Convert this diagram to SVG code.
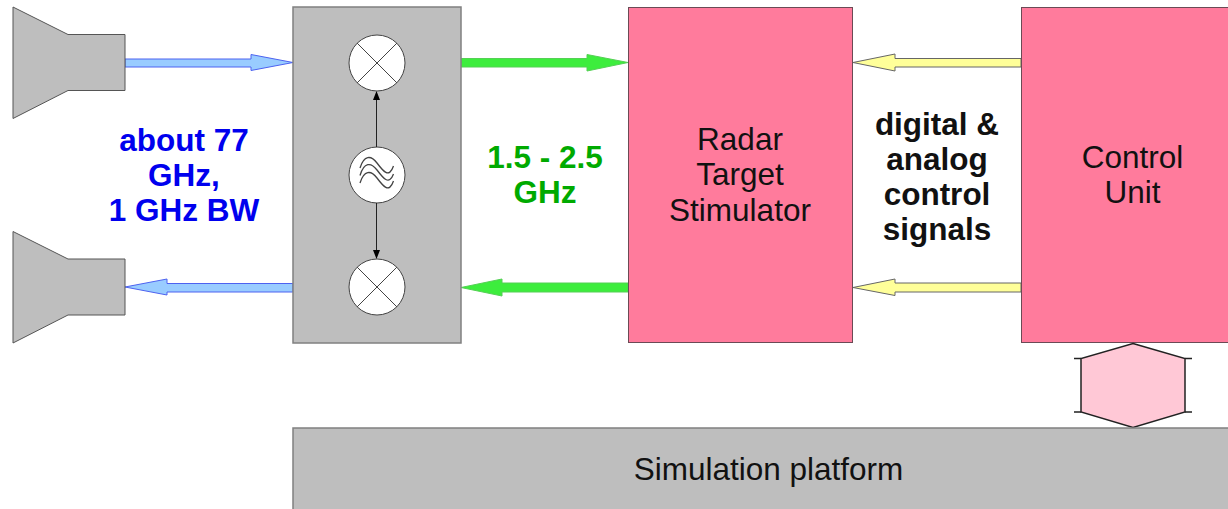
<svg xmlns="http://www.w3.org/2000/svg" width="1228" height="509" viewBox="0 0 1228 509">
<style>
.g{fill:#bebebe;stroke:#555;stroke-width:1}
.gb{fill:#bebebe;stroke:#808080;stroke-width:1.500}
.p{fill:#ff7b9c;stroke:#6b4a55;stroke-width:1}
.c{fill:#fff;stroke:#444;stroke-width:1}
.l{fill:none;stroke:#444;stroke-width:1}
.w{fill:none;stroke:#444;stroke-width:1.300}
.t{font-family:"Liberation Sans",Arial,sans-serif;text-anchor:middle}
.n{font-size:31.500px;fill:#111}
.b{font-size:31.500px;font-weight:bold}
.blue{fill:#99ccff;stroke:#4d62f0;stroke-width:1}
.green{fill:#3ded3d;stroke:#55d055;stroke-width:1}
.yellow{fill:#ffff99;stroke:#666;stroke-width:1}
</style>
<defs>
<g id="mixer"><circle class="c" r="28"/><path class="l" d="M-20-20L20 20M-20 20L20-20"/></g>
</defs>
<rect width="1228" height="509" fill="#fff"/>
<g id="connectors">
<path class="blue" d="M125 59H251V54.500L293 62.500L251 70.500V67H125Z"/>
<path class="blue" d="M293 283.500H167V279L125 287L167 295V292H293Z"/>
<path class="green" d="M461 58.500H587V54.500L628 62.500L587 71V67H461Z"/>
<path class="green" d="M628 283H502V279L461 287.500L502 296V292H628Z"/>
<path class="yellow" d="M1021 58.500H895V54L853 62.500L895 71V67H1021Z"/>
<path class="yellow" d="M1021 283H895V279L853 287.500L895 295.500V292H1021Z"/>
</g>
<g id="horn-top"><path class="g" d="M13 7L68 34.500H125V90.500H68L13 118.500Z"/></g>
<g id="horn-bottom"><path class="g" d="M13 231.500L68 259H125V315H68L13 343Z"/></g>
<g id="mixer-block"><rect class="gb" x="293" y="7" width="168" height="336"/></g>
<g id="mixer-top"><use href="#mixer" x="377" y="63"/></g>
<g id="oscillator"><circle class="c" cx="377" cy="175" r="28"/>
<path class="w" d="M360 168C364 155 371 155 377 163S389 179 393.500 166M360 175.500C364 162 371 162 377 170S389 186 393.500 174M360 183C364 170 371 170 377 178S389 194 393.500 181"/></g>
<g id="mixer-bottom"><use href="#mixer" x="377" y="287"/></g>
<g id="lo-arrows">
<path fill="none" stroke="#222" stroke-width="1" d="M376.500 147V100M376.500 203V250"/>
<path fill="#000" d="M376.500 91L380 100H373ZM376.500 259L380 250H373Z"/>
</g>
<g id="radar-target-stimulator"><rect class="p" x="628.500" y="7.500" width="224" height="335"/>
<text class="t n" x="740" y="150">Radar</text><text class="t n" x="740" y="185">Target</text><text class="t n" x="740" y="221">Stimulator</text></g>
<g id="control-unit"><rect class="p" x="1021.500" y="7.500" width="210" height="335"/>
<text class="t n" x="1132.500" y="168">Control</text><text class="t n" x="1132.500" y="203">Unit</text></g>
<g id="bus"><path fill="#ffc8d6" stroke="#222" stroke-width="1.500" d="M1133 343.500L1185 358.500V412L1133 427.500L1081 412V358.500Z"/>
<path fill="none" stroke="#222" stroke-width="1.500" d="M1074 358.500H1081M1185 358.500H1192M1074 412H1081M1185 412H1192"/></g>
<g id="simulation-platform"><rect class="gb" x="293" y="428" width="940" height="90"/>
<text class="t n" x="768.500" y="480">Simulation platform</text></g>
<g id="labels">
<g class="t b" fill="#0000ee"><text x="184" y="150.500">about 77</text><text x="184" y="186">GHz,</text><text x="184" y="221">1 GHz BW</text></g>
<g class="t b" fill="#00aa00"><text x="545" y="167.500">1.5 - 2.5</text><text x="545" y="203">GHz</text></g>
<g class="t b" fill="#111"><text x="937" y="134.500">digital &amp;</text><text x="937" y="170">analog</text><text x="937" y="204.500">control</text><text x="937" y="240">signals</text></g>
</g>
</svg>
